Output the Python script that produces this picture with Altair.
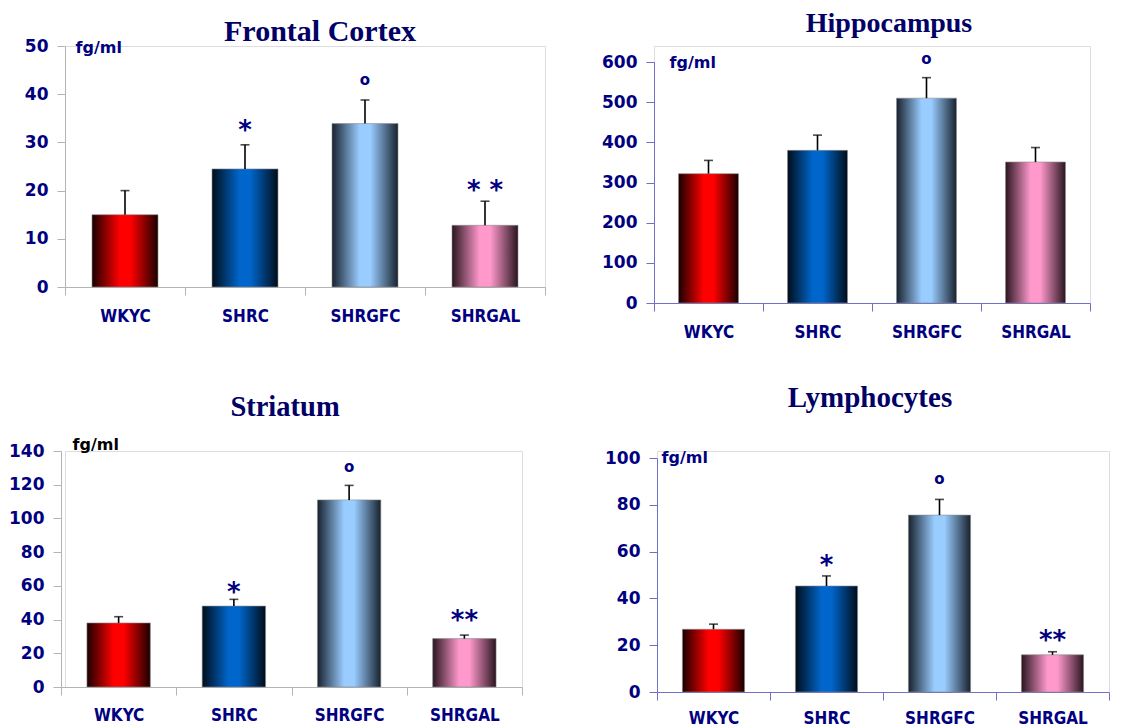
import altair as alt
import pandas as pd

groups = ["WKYC", "SHRC", "SHRGFC", "SHRGAL"]

fc_mean = [15.0, 24.5, 33.9, 12.8]
fc_err = [5.0, 5.0, 4.9, 5.0]
fc_sig = ["", "*", "o", "* *"]
fc_sig_y = [0, 33.8, 42.7, 21.4]

hip_mean = [322, 380, 510, 351]
hip_err = [33, 38, 51, 36]
hip_sig = ["", "", "o", ""]
hip_sig_y = [0, 0, 605, 0]

str_mean = [38.0, 48.0, 111.0, 28.7]
str_err = [3.7, 4.0, 8.6, 2.1]
str_sig = ["", "*", "o", "**"]
str_sig_y = [0, 60, 130, 43.3]

lym_mean = [26.8, 45.3, 75.6, 15.9]
lym_err = [2.2, 4.3, 6.7, 1.3]
lym_sig = ["", "*", "o", "**"]
lym_sig_y = [0, 57, 90.6, 25]

edge_colors = ["#1a0000", "#000d1a", "#18222e", "#2a1520"]
center_colors = ["#ff0000", "#0066cc", "#99ccff", "#ff99cc"]

NAVY = "#000080"
TITLE_COLOR = "#000066"
GRAY_AXIS = "#b4b4b4"
BLUE_AXIS = "#7070c8"
XFONT = "DejaVu Sans Condensed, DejaVu Sans"
YFONT = "DejaVu Sans"


def panel(title, title_size, mean, err, sig, sig_y, ymax, ystep, width, height,
          xrange, yrange, axis_offset, axis_color, unit_color, unit_x, unit_y,
          title_x, title_y, top_extent, y_extent, y_pad, x_extent, x_pad):
    df = pd.DataFrame({
        "group": groups,
        "mean": mean,
        "upper": [m + e for m, e in zip(mean, err)],
        "sig": sig,
        "sig_y": sig_y,
    })
    xenc = alt.X(
        "group:N",
        scale=alt.Scale(domain=groups, range=xrange, paddingInner=0, paddingOuter=0),
        axis=alt.Axis(
            title=None, labelAngle=0, tickBand="extent", tickSize=8,
            tickColor=axis_color, domainColor=axis_color,
            labelFont=XFONT, labelFontSize=17, labelFontWeight="bold",
            labelColor=NAVY, labelPadding=x_pad,
            minExtent=x_extent, maxExtent=x_extent,
        ),
    )
    yscale = alt.Scale(domain=[0, ymax], range=yrange, nice=False)
    yaxis = alt.Axis(
        title="fg/ml", titleAngle=0, titleAlign="left", titleBaseline="middle",
        titleX=unit_x, titleY=unit_y, titleFont=YFONT, titleFontSize=16,
        titleFontWeight="bold", titleColor=unit_color,
        values=list(range(0, ymax + 1, ystep)), grid=False, tickSize=8,
        tickColor=axis_color, domainColor=axis_color, offset=axis_offset,
        labelFont=YFONT, labelFontSize=17, labelFontWeight="bold",
        labelColor=NAVY, labelPadding=y_pad,
        minExtent=y_extent, maxExtent=y_extent,
    )
    base = alt.Chart(df)
    layers = []
    for g, e, c in zip(groups, edge_colors, center_colors):
        grad = alt.Gradient(
            gradient="linear",
            stops=[
                alt.GradientStop(offset=0, color=e),
                alt.GradientStop(offset=0.42, color=c),
                alt.GradientStop(offset=0.58, color=c),
                alt.GradientStop(offset=1, color=e),
            ],
            x1=0, x2=1, y1=0, y2=0,
        )
        layers.append(
            base.transform_filter(alt.datum.group == g)
            .mark_bar(fill=grad, stroke="#8a8a8a", strokeWidth=0.6,
                      width=alt.RelativeBandSize(0.55))
            .encode(x=xenc, y=alt.Y("mean:Q", scale=yscale, axis=yaxis))
        )
    layers.append(
        base.mark_rule(color="black", strokeWidth=1.6).encode(
            x=xenc, y=alt.Y("mean:Q", scale=yscale, axis=yaxis), y2="upper:Q")
    )
    layers.append(
        base.mark_tick(color="black", thickness=1.6, size=9, orient="horizontal").encode(
            x=xenc, y=alt.Y("upper:Q", scale=yscale, axis=yaxis))
    )
    layers.append(
        base.transform_filter("datum.sig != '' && datum.sig != 'o'")
        .mark_text(font=YFONT, fontSize=26, fontWeight="bold", color=NAVY,
                   baseline="alphabetic", dy=15)
        .encode(x=xenc, y=alt.Y("sig_y:Q", scale=yscale, axis=yaxis), text="sig:N")
    )
    layers.append(
        base.transform_filter("datum.sig == 'o'")
        .mark_text(font=YFONT, fontSize=15, fontWeight="bold", color=NAVY,
                   baseline="alphabetic", dy=4)
        .encode(x=xenc, y=alt.Y("sig_y:Q", scale=yscale, axis=yaxis), text="sig:N")
    )
    tdf = pd.DataFrame({"t": [title]})
    layers.append(
        alt.Chart(tdf).mark_text(font="Liberation Serif", fontSize=title_size, fontWeight="bold",
                                 color=TITLE_COLOR, baseline="alphabetic", align="center")
        .encode(x=alt.value(title_x), y=alt.value(title_y), text="t:N")
    )
    layers.append(
        alt.Chart(tdf).mark_text(text=".", opacity=0, baseline="top", fontSize=4)
        .encode(x=alt.value(0), y=alt.value(-top_extent))
    )
    return alt.layer(*layers).properties(width=width, height=height)


p1 = panel("Frontal Cortex", 30, fc_mean, fc_err, fc_sig, fc_sig_y, 50, 10, 480, 241,
           [0, 480], [241, 0], 0, GRAY_AXIS, NAVY, 10, 1, 255, -5, 37, 54, 9, 40, 13)
p2 = panel("Hippocampus", 28, hip_mean, hip_err, hip_sig, hip_sig_y, 600, 100, 436, 257,
           [0, 436], [257, 16], 0, BLUE_AXIS, NAVY, 15, 16, 235, -14, 37, 50, 9, 40, 13)
p3 = panel("Striatum", 28.5, str_mean, str_err, str_sig, str_sig_y, 140, 20, 457, 236,
           [-4, 457], [236, 0], 4, GRAY_AXIS, "black", 11, -7, 220, -35, 70, 46, 9, 40, 12)
p4 = panel("Lymphocytes", 29, lym_mean, lym_err, lym_sig, lym_sig_y, 100, 20, 452, 241,
           [0, 452], [241, 7], 0, BLUE_AXIS, NAVY, 4, 6, 213, -44, 70, 50, 9, 35, 10)

row1 = alt.hconcat(p1, p2, spacing=55)
row2 = alt.hconcat(p3, p4, spacing=77)
chart = alt.vconcat(row1, row2, spacing=36).properties(
    padding={"left": 0, "top": 0, "right": 5, "bottom": 0}
).configure_view(stroke=None).configure(background="white")

chart.save("out.html", embed_options={"renderer": "svg", "actions": False})
